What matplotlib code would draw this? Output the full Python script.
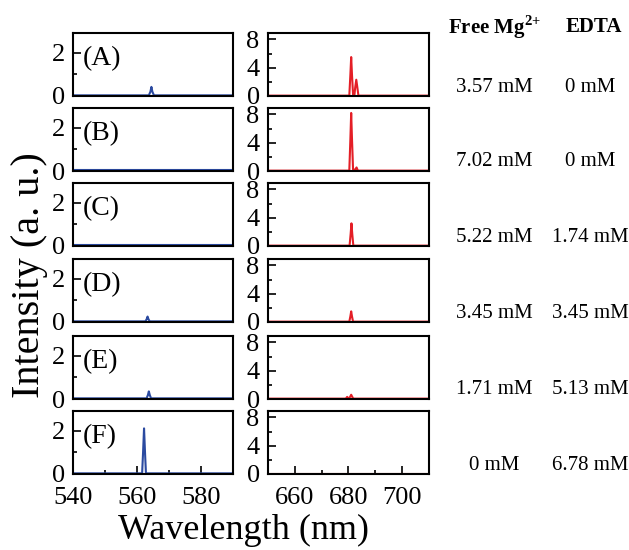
import matplotlib
matplotlib.use('Agg')
import matplotlib.pyplot as plt
from matplotlib.ticker import MultipleLocator

plt.rcParams['font.family'] = ['Liberation Serif', 'DejaVu Serif']
plt.rcParams['mathtext.fontset'] = 'custom'
plt.rcParams['mathtext.rm'] = 'Liberation Serif'
plt.rcParams['mathtext.bf'] = 'Liberation Serif:bold'

# panel labels and concentrations
panel_labels = ['(A)', '(B)', '(C)', '(D)', '(E)', '(F)']
free_mg = ['3.57 mM', '7.02 mM', '5.22 mM', '3.45 mM', '1.71 mM', '0 mM']
edta = ['0 mM', '0 mM', '1.74 mM', '3.45 mM', '5.13 mM', '6.78 mM']

# green emission (left column), wavelength / intensity per panel
green_wl = [
    [540, 563.7, 564.2, 564.5, 564.8, 565.3, 590],
    [540, 590],
    [540, 590],
    [540, 562.6, 563.0, 563.3, 563.6, 564.0, 590],
    [540, 563.0, 563.4, 563.7, 564.0, 564.4, 590],
    [540, 561.6, 561.9, 562.2, 562.5, 562.8, 590],
]
green_int = [
    [0.03, 0.03, 0.2, 0.42, 0.2, 0.03, 0.03],
    [0.03, 0.03],
    [0.03, 0.03],
    [0.03, 0.03, 0.12, 0.25, 0.12, 0.03, 0.03],
    [0.03, 0.03, 0.18, 0.35, 0.18, 0.03, 0.03],
    [0.03, 0.03, 1.0, 2.1, 1.0, 0.03, 0.03],
]

# red emission (right column)
red_wl = [
    [650, 680.3, 680.7, 681.0, 681.3, 681.7, 682.2, 682.5, 682.9, 683.3, 683.7, 710],
    [650, 680.3, 680.7, 681.0, 681.3, 681.7, 682.5, 683.0, 683.5, 710],
    [650, 680.4, 680.8, 681.1, 681.4, 681.8, 710],
    [650, 680.3, 680.7, 681.0, 681.3, 681.7, 710],
    [650, 679.0, 679.5, 680.0, 680.6, 681.0, 681.4, 681.8, 710],
    [650, 710],
]
red_int = [
    [0.05, 0.05, 3.0, 5.5, 3.0, 0.2, 0.1, 1.2, 2.3, 1.2, 0.05, 0.05],
    [0.05, 0.05, 4.5, 8.2, 4.5, 0.2, 0.2, 0.5, 0.05, 0.05],
    [0.05, 0.05, 1.7, 3.2, 1.7, 0.05, 0.05],
    [0.05, 0.05, 0.8, 1.5, 0.8, 0.05, 0.05],
    [0.05, 0.05, 0.3, 0.05, 0.3, 0.6, 0.3, 0.05, 0.05],
    [0.05, 0.05],
]

W, H = 629, 550
fig = plt.figure(figsize=(W / 100, H / 100), dpi=100)

tops = [33, 108, 183, 259, 336, 411]
ph = 63
blue = '#2b4aa0'
red = '#e41e26'


def style(ax, bottom):
    for s in ax.spines.values():
        s.set_linewidth(1.5)
    ax.tick_params(which='both', direction='in', right=False, top=False,
                   bottom=bottom, labelbottom=bottom, labelsize=19, width=1.2)
    ax.tick_params(which='major', length=6, pad=6)
    ax.tick_params(which='minor', length=3)
    ax.tick_params(axis='x', pad=9)


for i in range(6):
    y0 = 1 - (tops[i] + ph) / H
    axl = fig.add_axes([73 / W, y0, 160 / W, ph / H])
    axl.plot(green_wl[i], green_int[i], color=blue, lw=1.5)
    axl.set_xlim(540, 590)
    axl.set_ylim(0, 2.9)
    axl.yaxis.set_major_locator(MultipleLocator(2))
    axl.yaxis.set_minor_locator(MultipleLocator(1))
    axl.xaxis.set_major_locator(MultipleLocator(20))
    axl.xaxis.set_minor_locator(MultipleLocator(10))
    style(axl, i == 5)
    axl.text(0.06, 0.6, panel_labels[i], transform=axl.transAxes,
             fontsize=20, va='center', ha='left')

    axr = fig.add_axes([268 / W, y0, 161 / W, ph / H])
    axr.plot(red_wl[i], red_int[i], color=red, lw=1.5)
    axr.set_xlim(650, 710)
    axr.set_ylim(0, 8.9)
    axr.yaxis.set_major_locator(MultipleLocator(4))
    axr.yaxis.set_minor_locator(MultipleLocator(2))
    axr.xaxis.set_major_locator(MultipleLocator(20))
    axr.xaxis.set_minor_locator(MultipleLocator(10))
    style(axr, i == 5)

    ty = 1 - (tops[i] + ph - 9) / H
    fig.text(494 / W, ty, free_mg[i], ha='center', va='center', fontsize=15)
    fig.text(590 / W, ty, edta[i], ha='center', va='center', fontsize=15)

fig.text(494 / W, 1 - 27 / H, r'Free Mg$^{\mathbf{2{+}}}$', ha='center', va='center',
         fontsize=15, fontweight='bold')
fig.text(594 / W, 1 - 27 / H, 'EDTA', ha='center', va='center',
         fontsize=15, fontweight='bold')

fig.text(30 / W, 0.5, 'Intensity (a. u.)', rotation=90, ha='center', va='center',
         fontsize=29)
fig.text(244 / W, 1 - 530 / H, 'Wavelength (nm)', ha='center', va='center',
         fontsize=26)

fig.savefig('out.png', dpi=100)
